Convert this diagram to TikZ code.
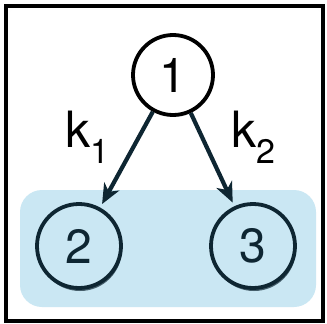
\documentclass[tikz,border=0pt]{standalone}
\usepackage{fontspec}
\setmainfont{TeX Gyre Heros}
\usetikzlibrary{arrows.meta,shadows}

\definecolor{paleblue}{RGB}{202,231,243}
\definecolor{navy}{RGB}{14,38,50}
\pgfdeclareradialshading{framefade}{\pgfpoint{0bp}{0bp}}{%
  color(0bp)=(white); color(34bp)=(white); color(50bp)=(gray!22); color(72bp)=(gray!34)}

\begin{document}
\begin{tikzpicture}[x=1pt,y=-1pt,
  state/.style={circle,line width=3.8pt,inner sep=0pt,minimum size=80pt,
    font=\fontsize{48}{54}\selectfont},
  rate/.style={inner sep=0pt,font=\fontsize{50}{56}\selectfont},
  flow/.style={line width=4.2pt,color=navy,shorten >=4pt,
    -{Stealth[length=20pt,width=17pt,inset=6pt]}}]
\useasboundingbox (0,0) rectangle (327,324);
% frame with soft inner shade
\shade[shading=framefade] (6,6) rectangle (323,321);
\draw[line width=4.5pt] (6,6) rectangle (323,321);
% product box
\fill[paleblue,rounded corners=22pt] (20,190) rectangle (316,307);
% species
\node[state,draw=black,fill=white,
  drop shadow={opacity=0.25,shadow xshift=1pt,shadow yshift=-2pt}] (n1) at (173,75) {1};
\node[state,draw=navy,fill=paleblue,text=navy,minimum size=84pt,
  drop shadow={opacity=0.7,fill=navy,shadow xshift=1pt,shadow yshift=-3pt}] (n2) at (79,246) {2};
\node[state,draw=navy,fill=paleblue,text=navy,minimum size=84pt,
  drop shadow={opacity=0.7,fill=navy,shadow xshift=1pt,shadow yshift=-3pt}] (n3) at (253,246) {3};
% reactions
\draw[flow] (n1) -- (n2);
\draw[flow] (n1) -- (n3);
\node[rate] (k1) at (87,137) {k\raisebox{-16pt}{\fontsize{34}{38}\selectfont 1}};
\node[rate] (k2) at (253,137) {k\raisebox{-16pt}{\fontsize{34}{38}\selectfont 2}};
\end{tikzpicture}
\end{document}
